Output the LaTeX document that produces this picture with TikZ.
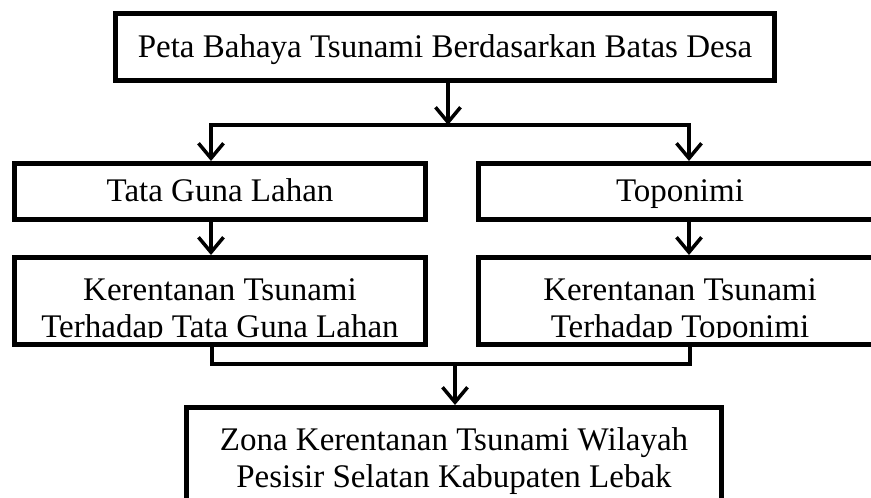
\documentclass[tikz,border=0pt]{standalone}
\usepackage{fontspec}
\setmainfont{Liberation Serif}
\usetikzlibrary{arrows.meta}
\begin{document}
\begin{tikzpicture}[x=1pt,y=-1pt,
  box/.style={draw=black, line width=5pt, fill=white, rectangle, inner sep=0pt, align=center,
    font=\fontsize{33}{37}\selectfont},
  onel/.style={text height=23pt, text depth=3pt},
  ktext/.style={font=\fontsize{33}{37}\selectfont, align=center, inner sep=0pt},
  cline/.style={line width=4pt, line cap=rect},
  arr/.style={line width=3.5pt, -{Straight Barb[length=15pt,width=25pt]}}
]
\useasboundingbox (0,0) rectangle (871,498);
% boxes
\node[box, onel, minimum width=659pt, minimum height=67pt] (top) at (445,47) {Peta Bahaya Tsunami Berdasarkan Batas Desa};
\node[box, onel, minimum width=411pt, minimum height=56pt] (tgl) at (220,191.5) {Tata Guna Lahan};
\node[box, onel, minimum width=403pt, minimum height=56pt] (topo) at (680,191.5) {Toponimi};
\node[box, minimum width=411pt, minimum height=87pt,
  path picture={\clip (path picture bounding box.north west) rectangle ([yshift=7pt]path picture bounding box.south east);
    \node[ktext] at ([yshift=-11pt]path picture bounding box.center) {Kerentanan Tsunami\\Terhadap Tata Guna Lahan};}] (ktgl) at (220,301) {};
\node[box, minimum width=403pt, minimum height=87pt,
  path picture={\clip (path picture bounding box.north west) rectangle ([yshift=7pt]path picture bounding box.south east);
    \node[ktext] at ([yshift=-11pt]path picture bounding box.center) {Kerentanan Tsunami\\Terhadap Toponimi};}] (ktopo) at (680,301) {};
\node[box, minimum width=535pt, minimum height=108pt] (zona) at (454,461.5) {Zona Kerentanan Tsunami Wilayah\\Pesisir Selatan Kabupaten Lebak};
% junction coordinates
\coordinate (ja) at (448,125);
\coordinate (jl) at (211,125);
\coordinate (jr) at (689,125);
\coordinate (kl) at (212,364);
\coordinate (kr) at (690,364);
\coordinate (km) at (455,364);
% connectors
\draw[arr] (top.south -| ja) -- (ja);
\draw[cline] (jl) -- (jr);
\draw[arr] (jl) -- (jl |- tgl.north);
\draw[arr] (jr) -- (jr |- topo.north);
\draw[arr] (tgl.south -| jl) -- (ktgl.north -| jl);
\draw[arr] (topo.south -| jr) -- (ktopo.north -| jr);
\draw[cline] (ktgl.south -| kl) -- (kl) -- (kr) -- (ktopo.south -| kr);
\draw[arr] (km) -- (zona.north -| km);
\end{tikzpicture}
\end{document}
